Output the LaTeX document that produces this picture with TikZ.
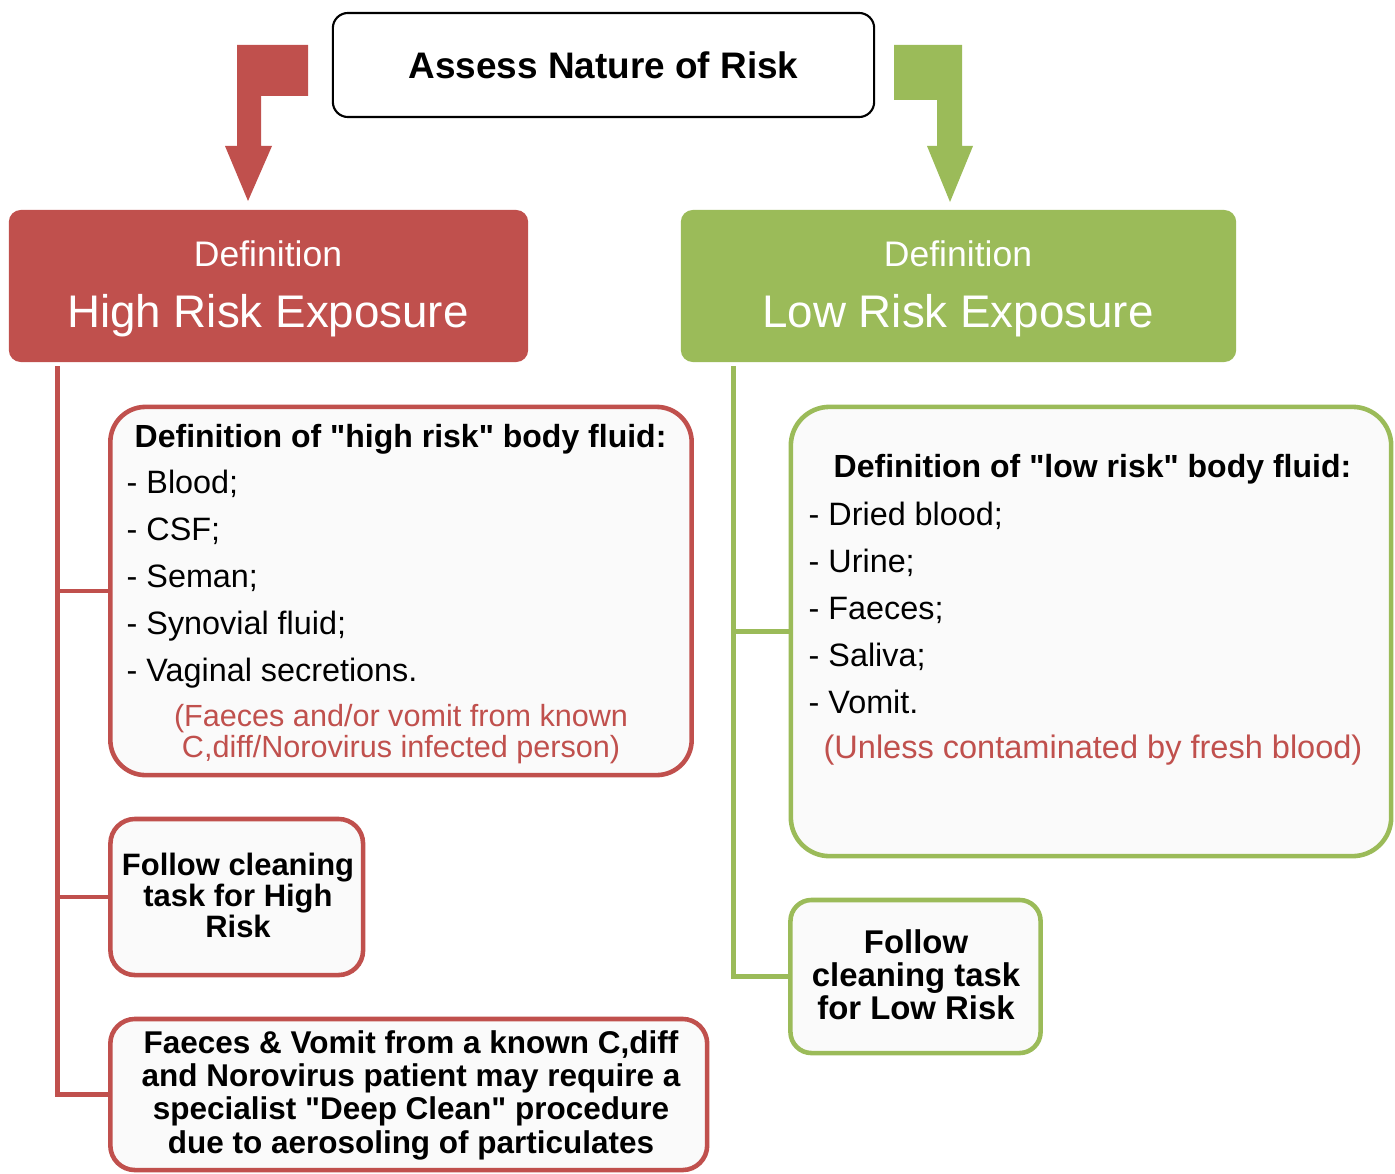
\documentclass[tikz,border=0pt]{standalone}
\usepackage{fontspec}
\setmainfont{Liberation Sans}
\definecolor{riskred}{HTML}{C0504D}
\definecolor{riskgreen}{HTML}{9BBB59}
\definecolor{boxfill}{HTML}{FAFAFA}
\tikzset{
  hdbox/.style={rounded corners=3.4pt, inner sep=0pt},
  fluidbox/.style={draw=#1, line width=1.3pt, fill=boxfill, inner sep=0pt},
  hline/.style={draw=riskred, line width=1.4pt},
  lline/.style={draw=riskgreen, line width=1.4pt},
  hdsmall/.style={text=white, inner sep=0pt, anchor=base, font=\fontsize{10.1}{12}\selectfont},
  hdbig/.style={text=white, inner sep=0pt, anchor=base, font=\fontsize{13}{15}\selectfont},
  fluidhead/.style={inner sep=0pt, anchor=base west, font=\bfseries\fontsize{9.1}{11}\selectfont},
  fluiditem/.style={inner sep=0pt, anchor=base west, font=\fontsize{9.2}{11}\selectfont},
  fluidnote/.style={inner sep=0pt, anchor=base, align=center, text=riskred, font=\fontsize{#1}{8.8}\selectfont},
  tasktext/.style={inner sep=0pt, anchor=base, align=center, font=\bfseries\fontsize{#1}{#1}\selectfont}
}
\begin{document}
\begin{tikzpicture}[x=0.01cm, y=-0.01cm]
  \useasboundingbox (0,0) rectangle (1395,1173);
  % Kopfkasten
  \node[draw=black, line width=0.6pt, rounded corners=4.3pt, minimum width=5.41cm, minimum height=1.04cm,
        font=\bfseries\fontsize{10.5}{12}\selectfont] (assess) at (603.5,65) {Assess Nature of Risk};
  % Blockpfeile
  \fill[riskred] (308,45) -- (237,45) -- (237,146) -- (225,146) -- (248,201) -- (272,146)
    -- (261,146) -- (261,96) -- (308,96) -- cycle;
  \fill[riskgreen] (894,45) -- (962,45) -- (962,146) -- (973,146) -- (950,202) -- (927,146)
    -- (937,146) -- (937,100) -- (894,100) -- cycle;
  % Ueberschriften
  \node[hdbox, fill=riskred, minimum width=5.19cm, minimum height=1.52cm] (hirisk) at (268.5,286) {};
  \node[hdbox, fill=riskgreen, minimum width=5.55cm, minimum height=1.52cm] (lorisk) at (958.5,286) {};
  \node[hdsmall] (hidef) at (268,266) {Definition};
  \node[hdbig] (hiname) at (268,327) {High Risk Exposure};
  \node[hdsmall] (lodef) at (958,266) {Definition};
  \node[hdbig] (loname) at (958,327) {Low Risk Exposure};

  % hohes Risiko
  \node[fluidbox=riskred, rounded corners=10pt, minimum width=5.81cm, minimum height=3.68cm] (hfluid) at (401,591) {};
  \node[fluidbox=riskred, rounded corners=7pt, minimum width=2.525cm, minimum height=1.56cm] (hclean) at (236.75,897) {};
  \node[fluidbox=riskred, rounded corners=7pt, minimum width=5.965cm, minimum height=1.51cm] (hdeep) at (408.75,1094.5) {};
  \node[fluidhead] (hhead) at (134,447) {Definition of \textquotedbl high risk\textquotedbl\ body fluid:};
  \foreach \t [count=\i] in {Blood;, CSF;, Seman;, Synovial fluid;, Vaginal secretions.}
    \node[fluiditem] (hitem\i) at (126,446+47*\i) {- \t};
  \node[fluidnote=8.7] (hnote) at (401,757) {(Faeces and/or vomit from known\\C,diff/Norovirus infected person)};
  \node[tasktext=8.8] (hcleantxt) at (238,937) {Follow cleaning\\task for High\\Risk};
  \node[tasktext=9.45, font=\bfseries\fontsize{8.95}{9.45}\selectfont] (hdeeptxt) at (411,1153) {Faeces \& Vomit from a known C,diff\\and Norovirus patient may require a\\specialist \textquotedbl Deep Clean\textquotedbl\ procedure\\due to aerosoling of particulates};
  \coordinate (htrunk) at (57.5,366);
  \foreach \b in {hfluid,hclean,hdeep}
    \draw[hline] (htrunk) |- (\b.west);

  % niedriges Risiko
  \node[fluidbox=riskgreen, rounded corners=11pt, minimum width=6.00cm, minimum height=4.49cm] (lfluid) at (1091,631.5) {};
  \node[fluidbox=riskgreen, rounded corners=6pt, minimum width=2.5cm, minimum height=1.53cm] (lclean) at (915.5,976.5) {};
  \node[fluidhead] (lhead) at (833,477) {Definition of \textquotedbl low risk\textquotedbl\ body fluid:};
  \foreach \t [count=\i] in {Dried blood;, Urine;, Faeces;, Saliva;, Vomit.}
    \node[fluiditem] (litem\i) at (808,478+47*\i) {- \t};
  \node[fluidnote=9.25] (lnote) at (1093,758) {(Unless contaminated by fresh blood)};
  \node[tasktext=9.35] (lcleantxt) at (916,1019) {Follow\\cleaning task\\for Low Risk};
  \coordinate (ltrunk) at (733.5,366);
  \foreach \b in {lfluid,lclean}
    \draw[lline] (ltrunk) |- (\b.west);
\end{tikzpicture}
\end{document}
